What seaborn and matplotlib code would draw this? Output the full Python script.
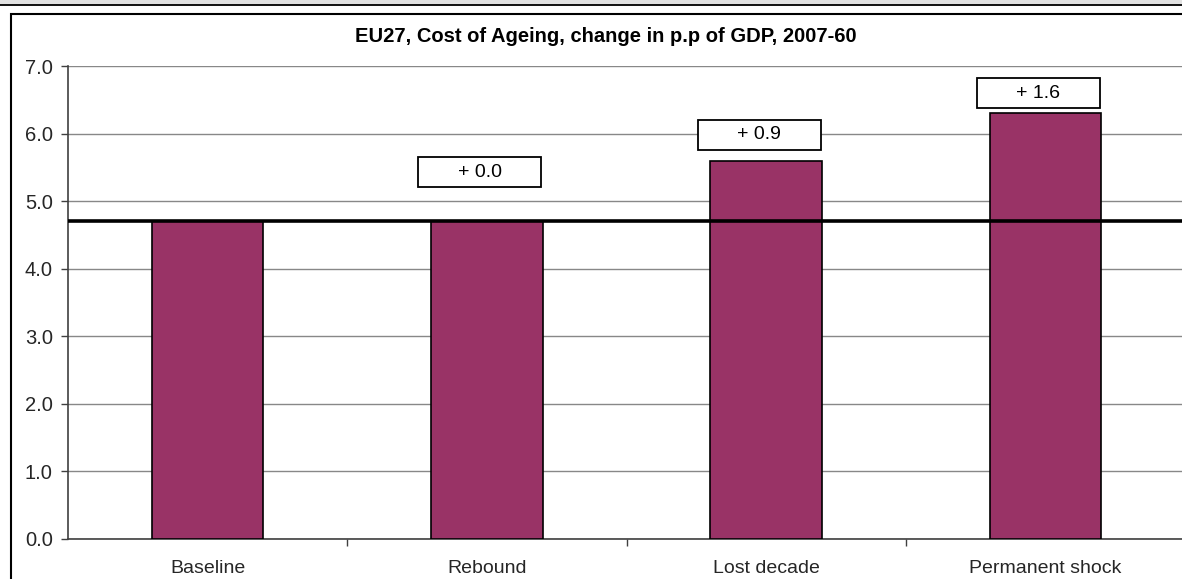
import matplotlib
matplotlib.use("Agg")
import matplotlib.pyplot as plt
from matplotlib.patches import Rectangle
import pandas as pd
import seaborn as sns

# Scenario results: cost of ageing, EU27, 2007-60 (p.p. of GDP)
scenarios = ["Baseline", "Rebound", "Lost decade", "Permanent shock"]
cost_of_ageing = [4.7, 4.7, 5.6, 6.3]
y_ticks = [0.0, 1.0, 2.0, 3.0, 4.0, 5.0, 6.0, 7.0]
title = "EU27, Cost of Ageing, change in p.p of GDP, 2007-60"

# vertical position of the difference boxes (layout only)
box_centres = [None, 5.43, 5.98, 6.60]

sns.set_theme(style="white")
plt.rcParams["font.family"] = ["Liberation Sans", "DejaVu Sans"]

W, H = 1182, 579
fig = plt.figure(figsize=(W / 100, H / 100), dpi=100)
fig.patch.set_facecolor("white")

def fx(px):
    return px / W

def fy(px):
    return 1 - px / H

# page header band and rule
fig.add_artist(Rectangle((0, fy(5)), 1, 5 / H, transform=fig.transFigure,
                         facecolor="#e2e2e2", edgecolor="none", zorder=0))
fig.add_artist(plt.Line2D([0, 1], [fy(5), fy(5)], transform=fig.transFigure,
                          color="black", lw=1.3))
# chart frame
fig.add_artist(Rectangle((fx(11), fy(600)), 1.2, (600 - 14) / H,
                         transform=fig.transFigure, facecolor="none",
                         edgecolor="black", lw=1.5, zorder=0))

ax = fig.add_axes([fx(68), 40 / H, (1185 - 68) / W, (539 - 66) / H])
ax.set_facecolor("none")

df = pd.DataFrame({"scenario": scenarios, "value": cost_of_ageing})
sns.barplot(data=df, x="scenario", y="value", color="#993366", width=0.4,
            saturation=1, edgecolor="black", linewidth=1.2, ax=ax, zorder=3)

ax.set_ylim(0, 7)
ax.set_xlim(-0.5, 3.5)
ax.set_yticks(y_ticks)
ax.set_yticklabels([f"{t:.1f}" for t in y_ticks], fontsize=14.5)
ax.set_xlabel("")
ax.set_ylabel("")
ax.tick_params(axis="x", labelsize=14, length=0, pad=15)
ax.set_xticks([0.5, 1.5, 2.5], minor=True)
ax.tick_params(axis="x", which="minor", length=5, width=1, color="#404040",
               direction="out", bottom=True)
ax.tick_params(axis="y", length=5, width=1, color="#404040", direction="out",
               left=True, pad=6)

ax.yaxis.grid(True, color="#888888", lw=1, zorder=0)
ax.set_axisbelow(True)
for side in ["top", "right"]:
    ax.spines[side].set_visible(False)
ax.spines["left"].set_color("#404040")
ax.spines["bottom"].set_color("#404040")
ax.spines["left"].set_linewidth(1.2)
ax.spines["bottom"].set_linewidth(1.2)

# reference level: baseline scenario
base = cost_of_ageing[0]
ax.axhline(base, color="black", lw=2.6, zorder=4)

# difference to baseline, in boxes above the bars
box_w, box_h = 0.44, 0.44
for i, (v, yc) in enumerate(zip(cost_of_ageing, box_centres)):
    if yc is None:
        continue
    diff = v - base
    xc = i - 0.025
    ax.add_patch(Rectangle((xc - box_w / 2, yc - box_h / 2), box_w, box_h,
                           facecolor="white", edgecolor="black", lw=1.3,
                           zorder=5))
    ax.text(xc, yc, f"+ {diff:.1f}", ha="center", va="center", fontsize=14,
            color="black", zorder=6)

fig.text(fx(606), fy(37), title, ha="center", va="center", fontsize=14.5,
         fontweight="bold", color="black")

fig.savefig("out.png", dpi=100)
